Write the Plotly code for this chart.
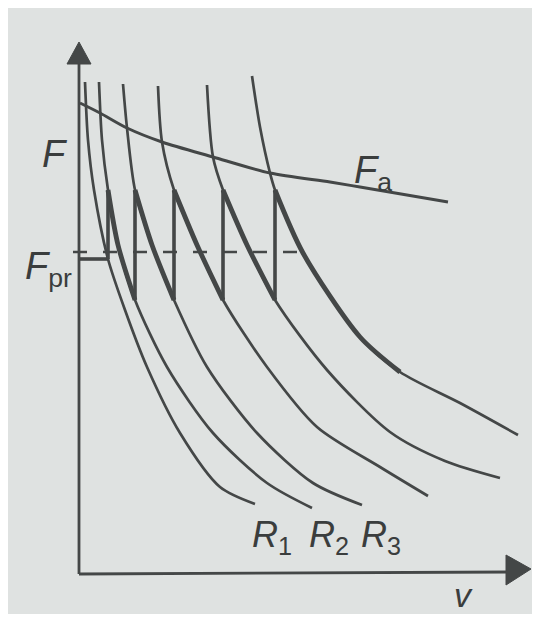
# Traction force diagram: resistance curves R1..R6, adhesion limit Fa, sawtooth between levels
import plotly.graph_objects as go

# values (v along x, F along y, arbitrary units)
r1_v = [0.5, 0.8, 1.4, 2.8, 4.5, 6.7, 10, 14, 17.5]
r1_f = [49.1, 43.3, 38.3, 31.4, 26.3, 20.6, 14, 8.6, 6.9]
r2_v = [1.9, 2.2, 2.8, 3.8, 5.5, 8.7, 13.3, 18.7, 23.2]
r2_f = [49.1, 43.3, 38.3, 32.8, 27.3, 20.6, 14, 9, 6.5]
r3_v = [4.3, 4.7, 5.5, 7.2, 9.4, 12.7, 17.7, 23.3, 28.2]
r3_f = [48.9, 44.5, 38.3, 32.8, 27.3, 20.6, 14, 9, 6.8]
r4_v = [7.8, 8.2, 9.4, 11.7, 14.3, 18.7, 23.7, 30, 34.8]
r4_f = [48.7, 43.1, 38.3, 32.8, 27.3, 20.6, 14.6, 10.6, 7.7]
r5_v = [12.7, 13.3, 14.3, 16.7, 19.5, 24.7, 31, 36.5, 42]
r5_f = [48.8, 41.6, 38.3, 32.8, 27.3, 20.3, 14.1, 11.2, 9.5]
r6_v = [17.2, 18, 19, 19.5, 22.3, 28, 32, 38, 43.8]
r6_f = [49.7, 44.6, 40, 38.3, 32, 23.6, 20.1, 17, 13.8]

fa_v = [0, 2, 4.7, 8.2, 13.3, 19, 25, 28, 36.8]
fa_f = [47, 46, 44.5, 43.1, 41.6, 40, 39.1, 38.6, 37.1]

f_peak = 38.3      # top of each sawtooth step
f_trough = 27.3    # bottom of each step
f_start = 31.4     # starting level (solid line from the axis)
f_pr = 32.1        # dashed F_pr level
dash_v = [-0.7, 22.5]
tail_f = 20.1      # thick line continues down R6 to here

curves = [(r1_v, r1_f), (r2_v, r2_f), (r3_v, r3_f),
          (r4_v, r4_f), (r5_v, r5_f), (r6_v, r6_f)]

ink = "#444747"
thin = 2.7
thick = 4.8

fig = go.Figure()

# thin resistance curves
for cv, cf in curves:
    fig.add_trace(go.Scatter(x=cv, y=cf, mode="lines",
                             line=dict(color=ink, width=thin, shape="spline", smoothing=0.8),
                             hoverinfo="skip"))

# adhesion curve
fig.add_trace(go.Scatter(x=fa_v, y=fa_f, mode="lines",
                         line=dict(color=ink, width=3.0, shape="spline", smoothing=0.8),
                         hoverinfo="skip"))

# dashed F_pr level
fig.add_trace(go.Scatter(x=dash_v, y=[f_pr, f_pr], mode="lines",
                         line=dict(color=ink, width=2.6, dash="14px,16px"), hoverinfo="skip"))

# thick sawtooth: start line, then down each curve between peak and trough
x_start = r1_v[r1_f.index(f_start)]
vx = [0, x_start, None, x_start, x_start, None]
vy = [f_start, f_start, None, f_start, f_peak, None]
for cv, cf in curves[1:5]:
    seg = [(v, f) for v, f in zip(cv, cf) if f_trough <= f <= f_peak]
    fig.add_trace(go.Scatter(x=[s[0] for s in seg], y=[s[1] for s in seg], mode="lines",
                             line=dict(color=ink, width=thick, shape="spline", smoothing=0.8),
                             hoverinfo="skip"))
    xt = seg[-1][0]
    vx += [xt, xt, None]
    vy += [f_trough, f_peak, None]
seg = [(v, f) for v, f in zip(r6_v, r6_f) if tail_f <= f <= f_peak]
fig.add_trace(go.Scatter(x=[s[0] for s in seg], y=[s[1] for s in seg], mode="lines",
                         line=dict(color=ink, width=thick, shape="spline", smoothing=0.8),
                         hoverinfo="skip"))
fig.add_trace(go.Scatter(x=vx, y=vy, mode="lines", line=dict(color=ink, width=3.6),
                         hoverinfo="skip", connectgaps=False))

# axes with arrow heads
fig.add_trace(go.Scatter(x=[-0.1, -0.1, None, -0.1, 43.5], y=[-0.1, 51.5, None, -0.1, 0.1], mode="lines",
                         line=dict(color=ink, width=2.8), hoverinfo="skip"))
fig.add_shape(type="path", path="M -1.3 50.9 L -0.1 53.1 L 1.1 50.9 Z",
              fillcolor=ink, line=dict(color=ink, width=1))
fig.add_shape(type="path", path="M 42.6 1.8 L 45.1 0.4 L 42.6 -1.2 Z",
              fillcolor=ink, line=dict(color=ink, width=1))

font = dict(family="Liberation Sans, Arial, sans-serif", color="#3a3d3d")
labels = [
    ("<i>F</i>", -2.6, 41.9, "center", 38),
    ("<i>F</i><sub>pr</sub>", -0.6, 30.4, "right", 38),
    ("<i>F</i><sub>a</sub>", 27.2, 40.0, "left", 38),
    ("<i>R</i><sub>1</sub>", 17.0, 3.6, "left", 36),
    ("<i>R</i><sub>2</sub>", 22.7, 3.6, "left", 36),
    ("<i>R</i><sub>3</sub>", 27.9, 3.6, "left", 36),
    ("<i>v</i>", 38.3, -2.2, "center", 34),
]
for txt, x, y, xa, size in labels:
    fig.add_annotation(x=x, y=y, text=txt, showarrow=False, xanchor=xa, yanchor="middle",
                       font=dict(size=size, **font))

# the page body adds an 8px white margin on every side (like the white photo edge),
# so the figure fills what is left and the ranges keep v=0 / F=0 at the drawn origin
fig.update_layout(
    width=524, height=606,
    margin=dict(l=0, r=0, t=0, b=0),
    paper_bgcolor="#dfe2e1", plot_bgcolor="rgba(0,0,0,0)",
    showlegend=False,
    xaxis=dict(range=[-7.2, 45.2], visible=False, fixedrange=True),
    yaxis=dict(range=[-4.1, 56.5], visible=False, fixedrange=True),
)

fig.write_html("out.html")
